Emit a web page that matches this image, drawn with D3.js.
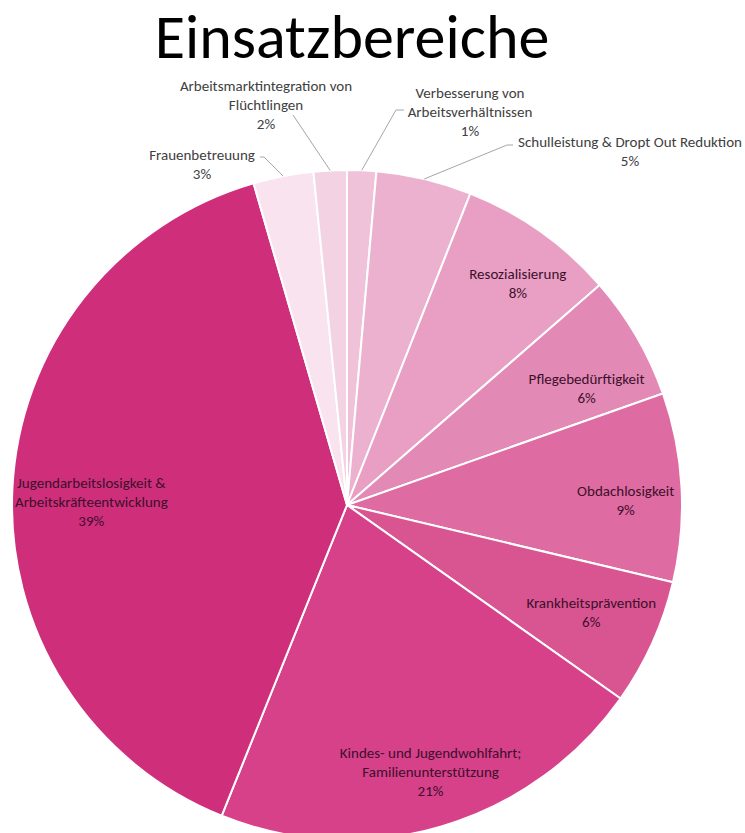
<!DOCTYPE html>
<html>
<head>
<meta charset="utf-8">
<script src="https://cdn.jsdelivr.net/npm/d3@7"></script>
<style>
  body { margin: 0; background: #fff; }
  svg { display: block; font-family: Carlito, Calibri, Lato, sans-serif; }
</style>
</head>
<body>
<div id="chart"></div>
<script>
// slices, clockwise from 12 o'clock
var categories = [
    "Verbesserung von|Arbeitsverhältnissen",
    "Schulleistung & Dropt Out Reduktion",
    "Resozialisierung",
    "Pflegebedürftigkeit",
    "Obdachlosigkeit",
    "Krankheitsprävention",
    "Kindes- und Jugendwohlfahrt;|Familienunterstützung",
    "Jugendarbeitslosigkeit &|Arbeitskräfteentwicklung",
    "Frauenbetreuung",
    "Arbeitsmarktintegration von|Flüchtlingen"
];
var values = [1.4, 4.6, 7.6, 6.0, 9.1, 6.1, 21.3, 39.4, 2.9, 1.6];
var colors = ["#efc2d9", "#ecb1cf", "#e89fc3", "#e389b5", "#de6ba1", "#d95591", "#d6418a", "#cf2e7b", "#f8e3ee", "#f3d3e3"];
var outside = [true, true, false, false, false, false, false, false, true, true];

var width = 745, height = 833;
var cx = 347, cy = 505, radius = 335;

var svg = d3.select("#chart")
    .append("svg")
    .attr("width", width)
    .attr("height", height);

svg.append("text")
    .attr("x", 352)
    .attr("y", 58)
    .attr("text-anchor", "middle")
    .attr("font-size", 62)
    .attr("fill", "#000")
    .text("Einsatzbereiche");

var data = categories.map(function(c, i) {
    return {name: c, value: values[i], color: colors[i], outside: outside[i]};
});

var pie = d3.pie()
    .sort(null)
    .value(function(d) { return d.value; });

var arc = d3.arc().innerRadius(0).outerRadius(radius);
var labelArc = d3.arc().innerRadius(radius * 0.8).outerRadius(radius * 0.8);

var g = svg.append("g")
    .attr("transform", "translate(" + cx + "," + cy + ")");

var arcs = pie(data);

g.selectAll("path.slice")
    .data(arcs)
    .enter().append("path")
    .attr("class", "slice")
    .attr("d", arc)
    .attr("fill", function(d) { return d.data.color; })
    .attr("stroke", "#fff")
    .attr("stroke-width", 2);

// best-fit style nudges for the inside labels (px), by slice index
var nudge = {2: [16, -3], 3: [8, 18], 4: [11, 10], 5: [0, -3], 6: [8, 10], 7: [12, 10]};

var inner = g.selectAll("g.inlabel")
    .data(arcs.filter(function(d) { return !d.data.outside; }))
    .enter().append("g")
    .attr("class", "inlabel")
    .attr("transform", function(d) {
        var c = labelArc.centroid(d);
        var n = nudge[d.index] || [0, 0];
        return "translate(" + (c[0] + n[0]) + "," + (c[1] + n[1]) + ")";
    });

function writeLines(sel, color) {
    sel.each(function(d) {
        var lines = d.data.name.split("|");
        lines.push(Math.round(d.data.value) + "%");
        var t = d3.select(this).append("text")
            .attr("text-anchor", "middle")
            .attr("font-size", 15)
            .attr("fill", color);
        var n = lines.length;
        lines.forEach(function(l, i) {
            t.append("tspan")
                .attr("x", 0)
                .attr("y", (i - (n - 1) / 2) * 19 + 5)
                .text(l);
        });
    });
}
writeLines(inner, "#3d0f2b");

// outside labels: label centre and leader line end
var outPos = {
    0: {x: 470, y: 112, lx: 404, ly: 110, bend: -8},
    1: {x: 630, y: 151, lx: 513, ly: 145, bend: -6},
    8: {x: 202, y: 164, lx: 260, ly: 157, bend: 4},
    9: {x: 266, y: 105, lx: 293, ly: 115, bend: 0}
};

arcs.forEach(function(d, i) {
    if (!d.data.outside) return;
    var p = outPos[i];
    var a = (d.startAngle + d.endAngle) / 2;
    var pts = [[radius * Math.sin(a), -radius * Math.cos(a)]];
    if (p.bend) pts.push([p.lx + p.bend - cx, p.ly - cy]);
    pts.push([p.lx - cx, p.ly - cy]);
    g.append("path")
        .attr("d", d3.line()(pts))
        .attr("fill", "none")
        .attr("stroke", "#a6a6a6")
        .attr("stroke-width", 1);
    var lab = g.append("g")
        .datum(d)
        .attr("transform", "translate(" + (p.x - cx) + "," + (p.y - cy) + ")");
    writeLines(lab, "#404040");
});
</script>
</body>
</html>
